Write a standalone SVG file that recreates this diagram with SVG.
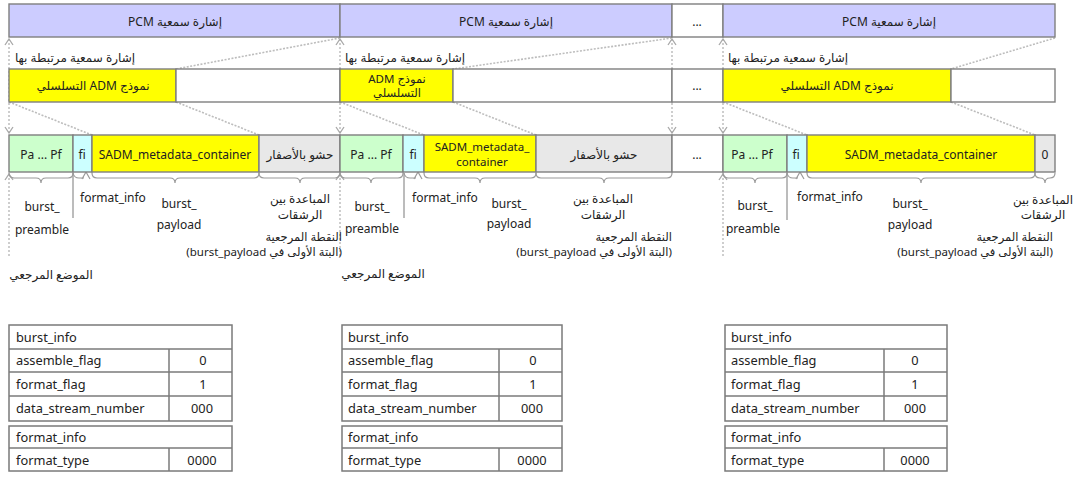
<svg xmlns="http://www.w3.org/2000/svg" width="1075" height="479" viewBox="0 0 1075 479">
<style>
.b{stroke:#7f7f7f;stroke-width:1.4}
.pcm{fill:#ccccff}.y{fill:#ffff00}.w{fill:#ffffff}.g{fill:#ccffcc}.c{fill:#ccffff}.p{fill:#e8e8e8}
.t{font-family:'Noto Sans','DejaVu Sans',sans-serif;font-size:12px;fill:#222}
.s{font-size:11.5px}
.tt{font-size:12.8px}
.m{text-anchor:middle}
.r{direction:rtl;unicode-bidi:embed}
.dot{stroke:#b4b4b4;stroke-width:1.3;stroke-dasharray:2 2;fill:none}
.diag{stroke:#bdbdbd;stroke-width:1.6;stroke-dasharray:2 1.5;fill:none}
.br{stroke:#9a9a9a;fill:none;stroke-width:1.2}
.vl{stroke:#a0a0a0;stroke-width:1.4}
.tb{fill:#fff;stroke:#7a7a7a;stroke-width:1.5}
.tl{stroke:#7a7a7a;stroke-width:1.5}
</style>
<defs>
<marker id="ch" viewBox="0 0 10 10" refX="9" refY="5" markerWidth="10" markerHeight="10" markerUnits="userSpaceOnUse" orient="auto-start-reverse">
<path d="M3,1 L9,5 L3,9" fill="none" stroke="#a8a8a8" stroke-width="1.3"/>
</marker>
</defs>
<rect width="1075" height="479" fill="#ffffff"/>

<g id="connectors">
<line class="dot" x1="9" y1="39" x2="9" y2="133" marker-start="url(#ch)" marker-end="url(#ch)"/>
<line class="dot" x1="340" y1="39" x2="340" y2="133" marker-start="url(#ch)" marker-end="url(#ch)"/>
<line class="dot" x1="672" y1="39" x2="672" y2="133" marker-start="url(#ch)" marker-end="url(#ch)"/>
<line class="dot" x1="723" y1="39" x2="723" y2="133" marker-start="url(#ch)" marker-end="url(#ch)"/>
<line class="diag" x1="340" y1="38" x2="176" y2="69"/>
<line class="diag" x1="9" y1="102" x2="92" y2="135"/>
<line class="diag" x1="176" y1="102" x2="259" y2="135"/>
<line class="diag" x1="672" y1="38" x2="453" y2="69"/>
<line class="diag" x1="340" y1="102" x2="424" y2="135"/>
<line class="diag" x1="453" y1="102" x2="536" y2="135"/>
<line class="diag" x1="1055" y1="38" x2="951" y2="69"/>
<line class="diag" x1="723" y1="102" x2="807" y2="135"/>
<line class="diag" x1="951" y1="102" x2="1035" y2="135"/>
<line class="dot" x1="9" y1="174" x2="9" y2="256" marker-start="url(#ch)"/>
<line class="dot" x1="340" y1="174" x2="340" y2="256" marker-start="url(#ch)"/>
<line class="dot" x1="723" y1="174" x2="723" y2="256" marker-start="url(#ch)"/>
<line class="vl" x1="73" y1="173" x2="73" y2="218"/>
<line class="vl" x1="404" y1="173" x2="404" y2="218"/>
<line class="vl" x1="787" y1="173" x2="787" y2="220"/>
<path class="br" d="M73,173 Q74,178 79,178 L84,178 M82,179 L86,172 L90,179"/>
<path class="br" d="M404,173 Q405,178 410,178 L416,178 M414,179 L418,172 L422,179"/>
<path class="br" d="M787,173 Q788,178 793,178 L798,178 M796,179 L800,172 L804,179"/>
<path class="br" d="M9,173 Q9,178 14,178 L36,178 Q41,178 41,183 Q41,178 46,178 L68,178 Q73,178 73,173"/>
<path class="br" d="M92,173 Q92,178 97,178 L170,178 Q175,178 175,183 Q175,178 180,178 L254,178 Q259,178 259,173"/>
<path class="br" d="M259,173 Q259,178 264,178 L295,178 Q300,178 300,183 Q300,178 305,178 L335,178 Q340,178 340,173"/>
<path class="br" d="M340,173 Q340,178 345,178 L366,178 Q371,178 371,183 Q371,178 376,178 L398,178 Q403,178 403,173"/>
<path class="br" d="M424,173 Q424,178 429,178 L475,178 Q480,178 480,183 Q480,178 485,178 L531,178 Q536,178 536,173"/>
<path class="br" d="M536,173 Q536,178 541,178 L599,178 Q604,178 604,183 Q604,178 609,178 L667,178 Q672,178 672,173"/>
<path class="br" d="M723,173 Q723,178 728,178 L750,178 Q755,178 755,183 Q755,178 760,178 L782,178 Q787,178 787,173"/>
<path class="br" d="M807,173 Q807,178 812,178 L916,178 Q921,178 921,183 Q921,178 926,178 L1030,178 Q1035,178 1035,173"/>
<path class="br" d="M1035,173 Q1035,178 1040,178 Q1045,178 1045,183 Q1045,178 1050,178 Q1055,178 1055,173"/>
</g>

<g id="pcm1"><rect class="b pcm" x="9" y="4" width="331" height="33"/><text class="t m r" x="175" y="26">إشارة سمعية PCM</text></g>
<g id="pcm2"><rect class="b pcm" x="340" y="4" width="332" height="33"/><text class="t m r" x="506" y="26">إشارة سمعية PCM</text></g>
<g id="pcmdots"><rect class="b w" x="672" y="4" width="51" height="33"/><text class="t m" x="697" y="26">...</text></g>
<g id="pcm3"><rect class="b pcm" x="723" y="4" width="332" height="33"/><text class="t m r" x="889" y="26">إشارة سمعية PCM</text></g>

<g id="lbl-assoc">
<text class="t m" x="75" y="62">إشارة سمعية مرتبطة بها</text>
<text class="t m" x="405" y="62">إشارة سمعية مرتبطة بها</text>
<text class="t m" x="788" y="62">إشارة سمعية مرتبطة بها</text>
</g>

<g id="adm1"><rect class="b y" x="9" y="69" width="167" height="33"/><rect class="b w" x="176" y="69" width="164" height="33"/><text class="t m r" x="93" y="90">نموذج ADM التسلسلي</text></g>
<g id="adm2"><rect class="b y" x="340" y="69" width="113" height="33"/><rect class="b w" x="453" y="69" width="219" height="33"/><text class="t s m r" x="397" y="83">نموذج ADM</text><text class="t s m" x="397" y="97">التسلسلي</text></g>
<g id="admdots"><rect class="b w" x="672" y="69" width="51" height="33"/><text class="t m" x="697" y="90">...</text></g>
<g id="adm3"><rect class="b y" x="723" y="69" width="228" height="33"/><rect class="b w" x="951" y="69" width="104" height="33"/><text class="t m r" x="837" y="90">نموذج ADM التسلسلي</text></g>

<g id="burst1">
<rect class="b g" x="9" y="135" width="64" height="37"/><text class="t m" x="41" y="159">Pa ... Pf</text>
<rect class="b c" x="73" y="135" width="19" height="37"/><text class="t m" x="82" y="159">fi</text>
<rect class="b y" x="92" y="135" width="167" height="37"/><text class="t m" x="175" y="159">SADM_metadata_container</text>
<rect class="b p" x="259" y="135" width="81" height="37"/><text class="t m" x="300" y="159">حشو بالأصفار</text>
</g>
<g id="burst2">
<rect class="b g" x="340" y="135" width="63" height="37"/><text class="t m" x="371" y="159">Pa ... Pf</text>
<rect class="b c" x="403" y="135" width="21" height="37"/><text class="t m" x="413" y="159">fi</text>
<rect class="b y" x="424" y="135" width="112" height="37"/><text class="t s m" x="482" y="151">SADM_metadata_</text><text class="t s m" x="482" y="166">container</text>
<rect class="b p" x="536" y="135" width="136" height="37"/><text class="t m" x="604" y="159">حشو بالأصفار</text>
</g>
<g id="burstdots"><rect class="b w" x="672" y="135" width="51" height="37"/><text class="t m" x="697" y="159">...</text></g>
<g id="burst3">
<rect class="b g" x="723" y="135" width="64" height="37"/><text class="t m" x="752" y="159">Pa ... Pf</text>
<rect class="b c" x="787" y="135" width="20" height="37"/><text class="t m" x="796" y="159">fi</text>
<rect class="b y" x="807" y="135" width="228" height="37"/><text class="t m" x="921" y="159">SADM_metadata_container</text>
<rect class="b p" x="1035" y="135" width="20" height="37"/><text class="t m" x="1045" y="159">0</text>
</g>

<g id="labels1">
<text class="t m" x="42" y="211">burst_</text><text class="t m" x="42" y="234">preamble</text>
<text class="t" x="80" y="202">format_info</text>
<text class="t m" x="179" y="208">burst_</text><text class="t m" x="179" y="229">payload</text>
<text class="t m" x="300" y="203">المباعدة بين</text><text class="t m" x="300" y="219">الرشقات</text>
<text class="t s r" x="342" y="241">النقطة المرجعية</text>
<text class="t s r" x="342" y="256">(البتة الأولى في burst_payload)</text>
<text class="t m" x="51" y="279">الموضع المرجعي</text>
</g>
<g id="labels2">
<text class="t m" x="372" y="211">burst_</text><text class="t m" x="372" y="233">preamble</text>
<text class="t" x="412" y="202">format_info</text>
<text class="t m" x="509" y="208">burst_</text><text class="t m" x="509" y="228">payload</text>
<text class="t m" x="603" y="203">المباعدة بين</text><text class="t m" x="603" y="219">الرشقات</text>
<text class="t s r" x="672" y="241">النقطة المرجعية</text>
<text class="t s r" x="672" y="256">(البتة الأولى في burst_payload)</text>
<text class="t m" x="383" y="278">الموضع المرجعي</text>
</g>
<g id="labels3">
<text class="t m" x="755" y="210">burst_</text><text class="t m" x="753" y="233">preamble</text>
<text class="t" x="797" y="201">format_info</text>
<text class="t m" x="910" y="208">burst_</text><text class="t m" x="910" y="229">payload</text>
<text class="t m" x="1043" y="204">المباعدة بين</text><text class="t m" x="1043" y="219">الرشقات</text>
<text class="t s r" x="1053" y="241">النقطة المرجعية</text>
<text class="t s r" x="1053" y="256">(البتة الأولى في burst_payload)</text>
</g>

<g id="table1">
<rect class="tb" x="9" y="325" width="223" height="96"/>
<line class="tl" x1="9" y1="349" x2="232" y2="349"/><line class="tl" x1="9" y1="372" x2="232" y2="372"/><line class="tl" x1="9" y1="396" x2="232" y2="396"/>
<line class="tl" x1="169" y1="349" x2="169" y2="421"/>
<text class="t tt" x="16" y="342">burst_info</text>
<text class="t tt" x="16" y="365">assemble_flag</text><text class="t tt m" x="203" y="365">0</text>
<text class="t tt" x="16" y="389">format_flag</text><text class="t tt m" x="203" y="389">1</text>
<text class="t tt" x="16" y="413">data_stream_number</text><text class="t tt m" x="202" y="413">000</text>
<rect class="tb" x="9" y="426" width="223" height="45"/>
<line class="tl" x1="9" y1="448" x2="232" y2="448"/><line class="tl" x1="169" y1="448" x2="169" y2="471"/>
<text class="t tt" x="16" y="442">format_info</text>
<text class="t tt" x="16" y="465">format_type</text><text class="t tt m" x="202" y="465">0000</text>
</g>
<g id="table2">
<rect class="tb" x="342" y="325" width="220" height="96"/>
<line class="tl" x1="342" y1="349" x2="562" y2="349"/><line class="tl" x1="342" y1="372" x2="562" y2="372"/><line class="tl" x1="342" y1="396" x2="562" y2="396"/>
<line class="tl" x1="499" y1="349" x2="499" y2="421"/>
<text class="t tt" x="348" y="342">burst_info</text>
<text class="t tt" x="348" y="365">assemble_flag</text><text class="t tt m" x="533" y="365">0</text>
<text class="t tt" x="348" y="389">format_flag</text><text class="t tt m" x="533" y="389">1</text>
<text class="t tt" x="348" y="413">data_stream_number</text><text class="t tt m" x="532" y="413">000</text>
<rect class="tb" x="342" y="426" width="220" height="45"/>
<line class="tl" x1="342" y1="448" x2="562" y2="448"/><line class="tl" x1="499" y1="448" x2="499" y2="471"/>
<text class="t tt" x="348" y="442">format_info</text>
<text class="t tt" x="348" y="465">format_type</text><text class="t tt m" x="532" y="465">0000</text>
</g>
<g id="table3">
<rect class="tb" x="725" y="325" width="222" height="96"/>
<line class="tl" x1="725" y1="349" x2="947" y2="349"/><line class="tl" x1="725" y1="372" x2="947" y2="372"/><line class="tl" x1="725" y1="396" x2="947" y2="396"/>
<line class="tl" x1="884" y1="349" x2="884" y2="421"/>
<text class="t tt" x="731" y="342">burst_info</text>
<text class="t tt" x="731" y="365">assemble_flag</text><text class="t tt m" x="915" y="365">0</text>
<text class="t tt" x="731" y="389">format_flag</text><text class="t tt m" x="915" y="389">1</text>
<text class="t tt" x="731" y="413">data_stream_number</text><text class="t tt m" x="915" y="413">000</text>
<rect class="tb" x="725" y="426" width="222" height="45"/>
<line class="tl" x1="725" y1="448" x2="947" y2="448"/><line class="tl" x1="884" y1="448" x2="884" y2="471"/>
<text class="t tt" x="731" y="442">format_info</text>
<text class="t tt" x="731" y="465">format_type</text><text class="t tt m" x="915" y="465">0000</text>
</g>
</svg>
